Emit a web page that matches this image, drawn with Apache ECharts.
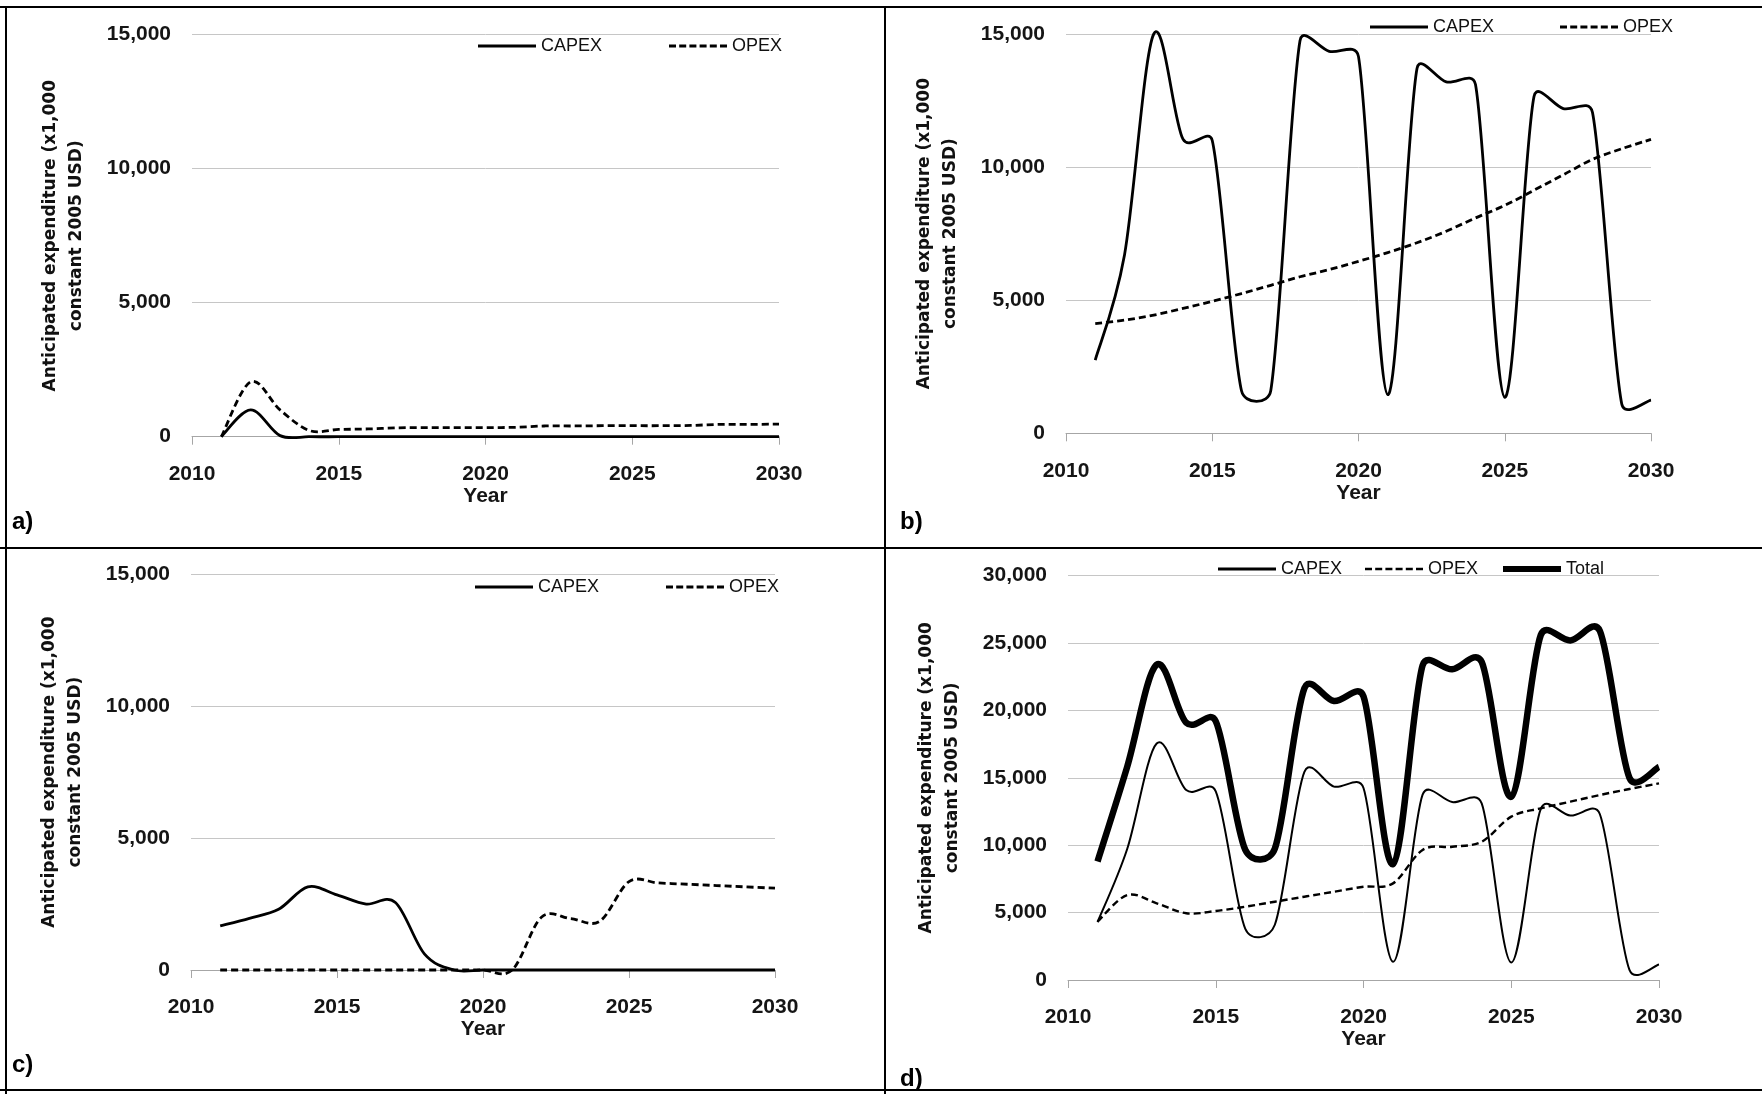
<!DOCTYPE html>
<html>
<head>
<meta charset="utf-8">
<script src="https://cdn.jsdelivr.net/npm/echarts@6/dist/echarts.min.js"></script>
<style>html,body{margin:0;padding:0;background:#fff}#c{width:1762px;height:1094px}</style>
</head>
<body>
<div id="c"></div>
<script>
// ---- data ----
const years = [2011, 2012, 2013, 2014, 2015, 2016, 2017, 2018, 2019, 2020,
               2021, 2022, 2023, 2024, 2025, 2026, 2027, 2028, 2029, 2030];

// panel a
const aCapex = [0, 1000, 40, 0, 0, 0, 0, 0, 0, 0, 0, 0, 0, 0, 0, 0, 0, 0, 0, 0];
const aOpex  = [0, 2050, 1000, 230, 270, 290, 330, 340, 340, 340, 350, 400, 400, 410, 410, 410, 420, 460, 460, 470];

// panel b
const bCapex = [2750, 6700, 15000, 11050, 11000, 1600, 1600, 14750, 14350, 14150,
                1450, 13700, 13200, 13100, 1350, 12650, 12200, 12050, 1100, 1250];
const bOpex  = [4120, 4250, 4440, 4690, 4960, 5250, 5560, 5880, 6150, 6460,
                6790, 7160, 7590, 8090, 8560, 9130, 9710, 10290, 10690, 11040];

// panel c
const cCapex = [1670, 1960, 2300, 3150, 2850, 2500, 2560, 600, 0, 0,
                0, 0, 0, 0, 0, 0, 0, 0, 0, 0];
const cOpex  = [0, 0, 0, 0, 0, 0, 0, 0, 0, 0,
                0, 2000, 1950, 1850, 3350, 3300, 3250, 3200, 3150, 3100];

// panel d
const dCapex = [4300, 9700, 17550, 14100, 14000, 3800, 4100, 15450, 14350, 14250,
                1350, 13750, 13200, 13100, 1300, 12700, 12200, 12300, 750, 1150];
const dOpex  = [4330, 6300, 5690, 4950, 5120, 5440, 5810, 6180, 6550, 6920,
                7170, 9650, 9890, 10260, 12120, 12740, 13230, 13730, 14170, 14590];
const dTotal = [8800, 15800, 23400, 19100, 19200, 9650, 9750, 21650, 20700, 21050,
                8600, 23350, 23050, 23600, 13600, 25600, 25200, 25900, 15000, 15800];

const yMaxes = [15000, 15000, 15000, 30000];
const yStep = 5000;
const xMin = 2010, xMax = 2030, xStep = 5;

const yTitle = 'Anticipated expenditure (x1,000\nconstant 2005 USD)';
const xTitle = 'Year';
const panelLabels = ['a)', 'b)', 'c)', 'd)'];
const names = ['CAPEX', 'OPEX', 'Total'];

// ---- layout ----
const grids = [
  {left: 192,  top: 34.7,  width: 587, height: 402},
  {left: 1066, top: 34,    width: 585, height: 399.3},
  {left: 191,  top: 574.3, width: 584, height: 395.7},
  {left: 1068, top: 575.7, width: 591, height: 404.3}
];

const tickFont = {fontFamily: '"Liberation Sans", Arial, sans-serif', fontWeight: 'bold', fontSize: 21, color: '#151515'};
const legendText = {fontFamily: '"Liberation Sans", Arial, sans-serif', fontSize: 18, color: '#111'};
const DASH = [7, 4];

function pairs(vals) { return years.map((y, i) => [y, vals[i]]); }

const xAxes = grids.map((g, i) => ({
  gridIndex: i, type: 'value', min: xMin, max: xMax, interval: xStep,
  axisLine: {show: true, lineStyle: {color: '#a6a6a6', width: 1}},
  axisTick: {show: true, length: 8, lineStyle: {color: '#a6a6a6', width: 1}},
  splitLine: {show: false},
  axisLabel: Object.assign({margin: 27, formatter: v => String(v)}, tickFont),
  name: xTitle, nameLocation: 'middle', nameGap: 49,
  nameTextStyle: Object.assign({}, tickFont)
}));

const yAxes = grids.map((g, i) => ({
  gridIndex: i, type: 'value', min: 0, max: yMaxes[i], interval: yStep,
  axisLine: {show: false}, axisTick: {show: false},
  splitLine: {show: true, lineStyle: {color: '#c6c6c6', width: 1}},
  axisLabel: Object.assign({margin: 21, formatter: v => v.toLocaleString('en-US')}, tickFont),
  name: yTitle, nameLocation: 'middle', nameRotate: 90, nameGap: 102,
  nameTextStyle: {fontFamily: '"DejaVu Sans", sans-serif', fontWeight: 'bold', fontSize: 17, lineHeight: 26, color: '#111', align: 'center'}
}));

// Spreadsheet-style smoothed curve (Bezier through the points, control
// points at 1/6 of the neighbour chord, capped at half the segment).
function dist(a, b) { return Math.hypot(b[0] - a[0], b[1] - a[1]); }
function smoothPath(pts) {
  const n = pts.length;
  let d = 'M' + pts[0][0].toFixed(2) + ' ' + pts[0][1].toFixed(2);
  for (let i = 0; i < n - 1; i++) {
    const p0 = pts[Math.max(i - 1, 0)], p1 = pts[i], p2 = pts[i + 1], p3 = pts[Math.min(i + 2, n - 1)];
    const d12 = dist(p1, p2), d02 = dist(p0, p2), d13 = dist(p1, p3);
    let f = 1 / 6, g = 1 / 6;
    if (d02 > 0 && d02 / 6 > d12 / 2) f = d12 / (2 * d02);
    if (d13 > 0 && d13 / 6 > d12 / 2) g = d12 / (2 * d13);
    const c1x = p1[0] + (p2[0] - p0[0]) * f, c1y = p1[1] + (p2[1] - p0[1]) * f;
    const c2x = p2[0] - (p3[0] - p1[0]) * g, c2y = p2[1] - (p3[1] - p1[1]) * g;
    d += 'C' + c1x.toFixed(2) + ' ' + c1y.toFixed(2) + ' ' + c2x.toFixed(2) + ' ' + c2y.toFixed(2) +
         ' ' + p2[0].toFixed(2) + ' ' + p2[1].toFixed(2);
  }
  return d;
}

function curve(name, idx, vals, width, dashed) {
  const data = pairs(vals);
  return {
    type: 'custom', name: name, xAxisIndex: idx, yAxisIndex: idx,
    data: data, encode: {x: 0, y: 1}, silent: true,
    itemStyle: {color: '#000'},
    renderItem: function (params, api) {
      if (params.dataIndex !== 0) return null;
      const pts = data.map(p => api.coord(p));
      return {
        type: 'path',
        shape: {pathData: smoothPath(pts)},
        style: {fill: 'none', stroke: '#000', lineWidth: width, lineDash: dashed ? DASH : null, lineJoin: 'round'}
      };
    }
  };
}

const series = [
  curve(names[0], 0, aCapex, 2.8, false),
  curve(names[1], 0, aOpex, 2.8, true),
  curve(names[0], 1, bCapex, 2.8, false),
  curve(names[1], 1, bOpex, 2.8, true),
  curve(names[0], 2, cCapex, 2.8, false),
  curve(names[1], 2, cOpex, 2.8, true),
  curve(names[0], 3, dCapex, 2, false),
  curve(names[1], 3, dOpex, 2.4, true),
  curve(names[2], 3, dTotal, 6.5, false)
];

// legend icons: solid bar / dashed bar of a given thickness
function solidIcon(t) { return 'path://M0 0h58v' + t + 'h-58z'; }
function dashIcon(t) {
  let p = 'path://';
  for (let k = 0; k < 6; k++) p += 'M' + (k * 10.2).toFixed(1) + ' 0h7v' + t + 'h-7z';
  return p;
}
function leg(name, left, cy, dashed, t) {
  return {
    data: [{name: name, icon: dashed ? dashIcon(t) : solidIcon(t), itemStyle: {color: '#000'}}],
    left: left, top: cy - 10, padding: 0, itemGap: 0,
    itemWidth: 58, itemHeight: t, selectedMode: false,
    textStyle: legendText
  };
}

const legends = [
  leg('CAPEX', 478, 47, false, 2.8), leg('OPEX', 669, 47, true, 2.8),
  leg('CAPEX', 1370, 28, false, 2.8), leg('OPEX', 1560, 28, true, 2.8),
  leg('CAPEX', 475, 588, false, 2.8), leg('OPEX', 666, 588, true, 2.8),
  leg('CAPEX', 1218, 570, false, 3), leg('OPEX', 1365, 570, true, 2.6),
  leg('Total', 1503, 570, false, 6)
];

function rule(x1, y1, x2, y2, w) {
  return {type: 'line', silent: true, shape: {x1: x1, y1: y1, x2: x2, y2: y2}, style: {stroke: '#000', lineWidth: w}};
}
const labelPos = [[12, 522], [900, 522], [12, 1065], [900, 1079]];
const graphic = [
  rule(0, 7, 1762, 7, 2),
  rule(6, 7, 6, 1094, 2),
  rule(885, 7, 885, 1094, 2),
  rule(0, 548, 1762, 548, 2),
  rule(0, 1090, 1762, 1090, 2)
].concat(panelLabels.map((t, i) => ({
  type: 'text', silent: true, x: labelPos[i][0], y: labelPos[i][1],
  style: {text: t, fontFamily: '"Liberation Sans Narrow", "Liberation Sans", sans-serif', fontWeight: 'bold', fontSize: 24, fill: '#000', verticalAlign: 'middle'}
})));

const chart = echarts.init(document.getElementById('c'), null, {renderer: 'canvas'});
chart.setOption({
  animation: false,
  backgroundColor: '#fff',
  grid: grids,
  xAxis: xAxes,
  yAxis: yAxes,
  legend: legends,
  series: series,
  graphic: graphic
});
</script>
</body>
</html>
